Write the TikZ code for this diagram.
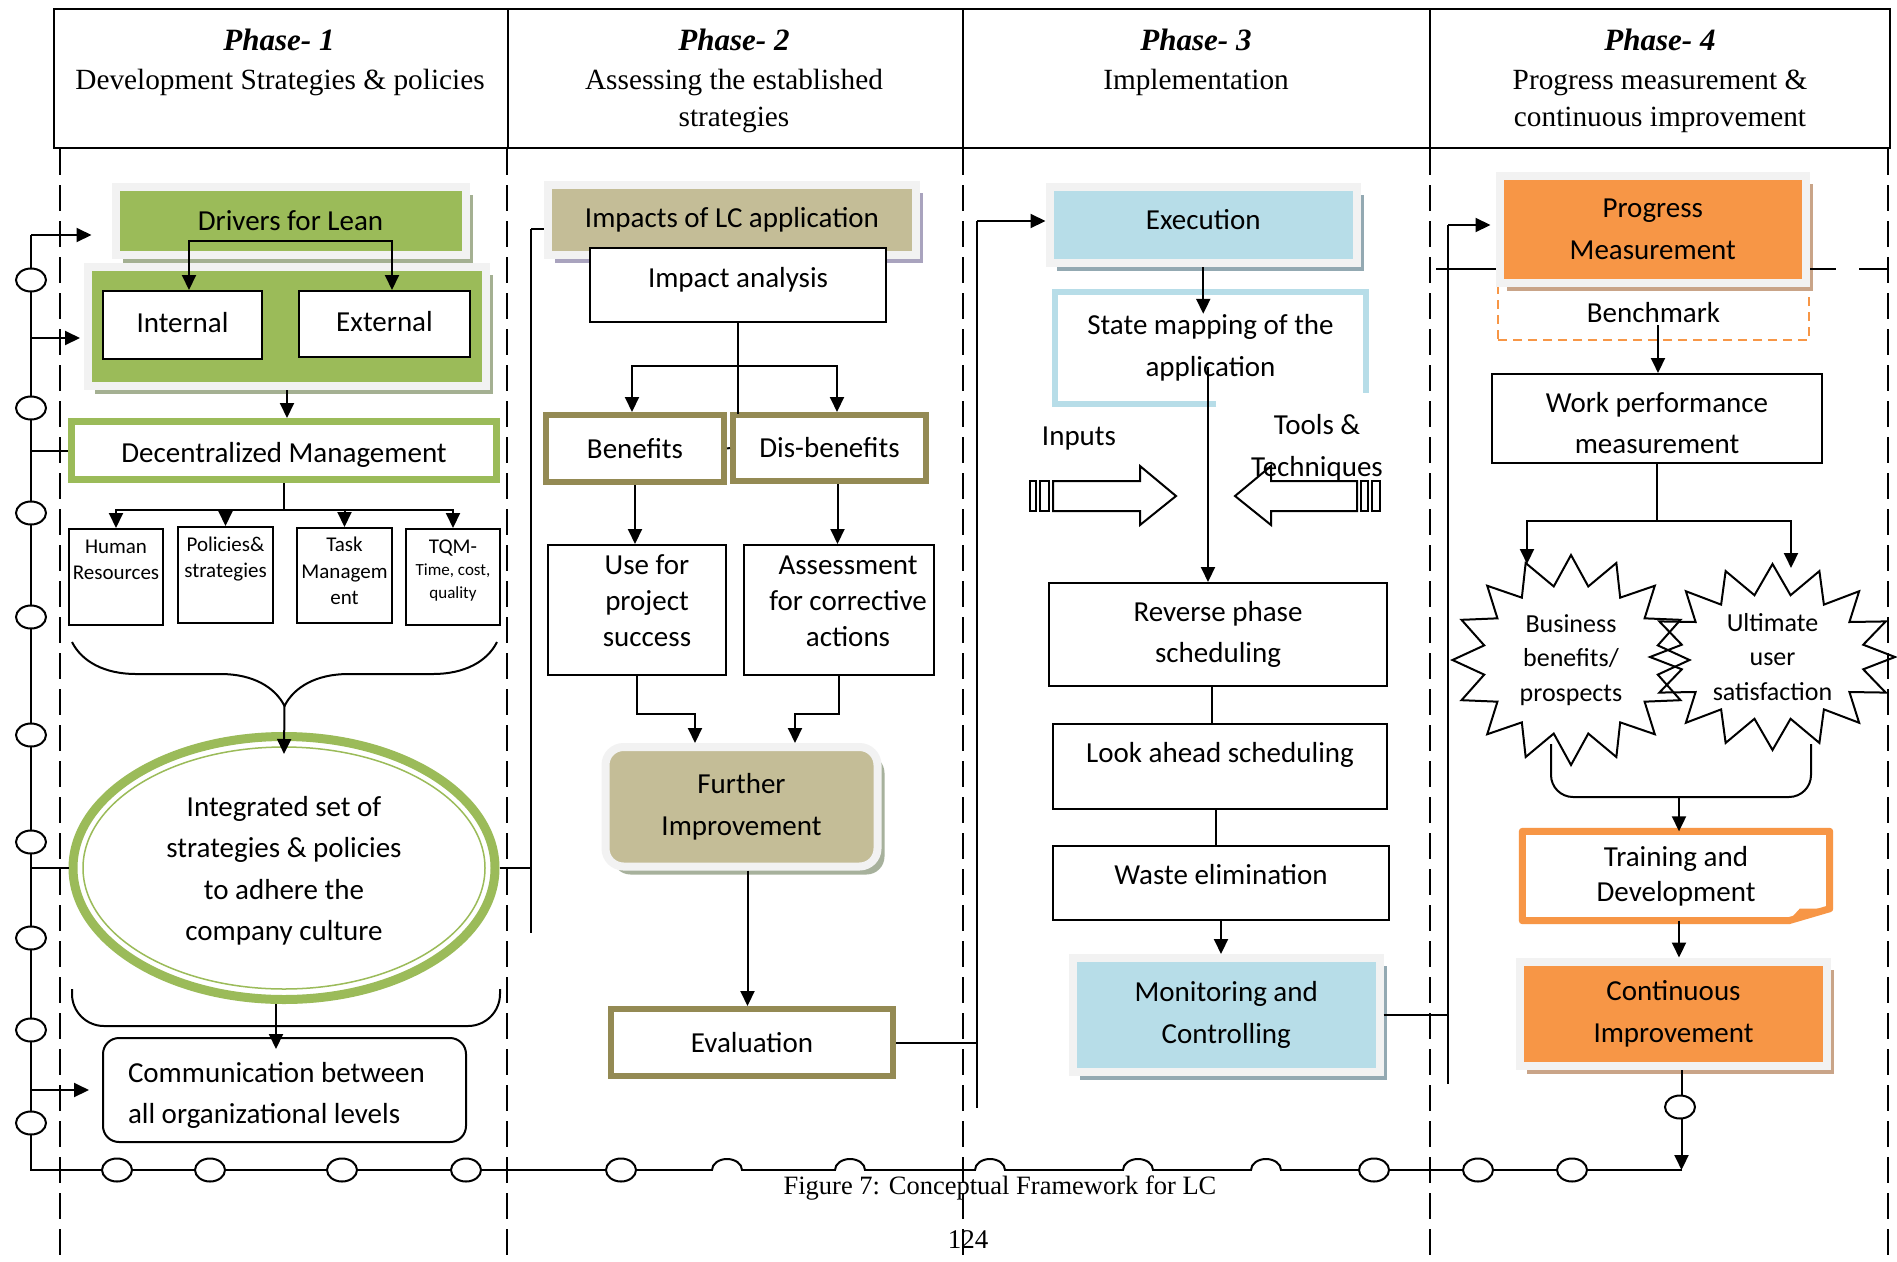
\documentclass[tikz,border=0pt]{standalone}
\usepackage{fontspec}
\setmainfont{Carlito}
\newfontfamily\headfont{Liberation Serif}
\usepackage{tikz}
\usetikzlibrary{shapes.geometric, shapes.symbols, arrows.meta, positioning, calc, decorations.pathreplacing, shadows}
\definecolor{leafgreen}{HTML}{9BBB59}
\definecolor{leafshade}{HTML}{A4B092}
\definecolor{paneframe}{HTML}{F2F2F2}
\definecolor{khaki}{HTML}{C4BD97}
\definecolor{lavshade}{HTML}{A9A3BE}
\definecolor{sageshade}{HTML}{A7B19C}
\definecolor{olivedrab}{HTML}{948A54}
\definecolor{skyfill}{HTML}{B7DDE8}
\definecolor{skyshade}{HTML}{93A9B2}
\definecolor{tangerine}{HTML}{F79646}
\definecolor{tanshade}{HTML}{C9A488}
\newcommand{\toptext}[1]{\parbox[c][90pt][t]{90pt}{\centering\rule{0pt}{21pt}#1}}
\newcommand{\boxtext}[4]{\parbox[c][#1][t]{#2}{\centering\rule{0pt}{#3}#4}}

\begin{document}
\begin{tikzpicture}[x=1pt, y=-1pt, font=\fontsize{29}{41.5}\selectfont,
    arr/.style={-{Triangle[length=15pt,width=14pt]}, line width=2pt},
    link/.style={line width=2pt},
    divider/.style={line width=1.8pt, dash pattern=on 26pt off 10pt},
    panel/.style={rectangle, draw=paneframe, line width=8pt, inner sep=0pt, align=center},
    shadowed/.style={drop shadow={shadow xshift=7pt, shadow yshift=-8pt, fill=#1, opacity=1}},
    plainbox/.style={rectangle, draw, line width=2pt, fill=white, inner sep=0pt, align=center},
    olivebox/.style={rectangle, draw=olivedrab, line width=6pt, fill=white, inner sep=0pt, align=center},
    tinybox/.style={rectangle, draw, line width=2pt, fill=white, inner sep=0pt, font=\fontsize{21}{26.5}\selectfont},
    tight/.style={font=\fontsize{29}{36}\selectfont},
    loopnode/.style={ellipse, draw, line width=2pt, fill=white, minimum width=30pt, minimum height=23pt, inner sep=0pt},
    burst/.style={starburst, starburst points=16, starburst point height=30pt, random starburst=0, draw, line width=2pt, align=center, inner sep=0pt, font=\fontsize{26}{34.5}\selectfont},
    headtitle/.style={anchor=base, font=\headfont\fontsize{31}{37}\selectfont\bfseries\itshape},
    headline/.style={anchor=base, font=\headfont\fontsize{29.3}{37}\selectfont}]

    \fill[white] (0,0) rectangle (1897,1261);
    \useasboundingbox (0,0) rectangle (1897,1261);

    % phase columns
    \foreach \x in {60,507,963,1430,1888} \draw[divider] (\x,149) -- (\x,1261);
    \draw[line width=2.5pt, fill=white] (54,9) rectangle (1890,148);
    \foreach \x in {508,963,1430} \draw[line width=2pt] (\x,9) -- (\x,148);

    \node[headtitle] (ph1) at (279,50) {Phase- 1};
    \node[headline] (ph1a) at (280,89.5) {Development Strategies \& policies};
    \node[headtitle] (ph2) at (734,50) {Phase- 2};
    \node[headline] (ph2a) at (734,89.5) {Assessing the established};
    \node[headline] (ph2b) at (734,126.5) {strategies};
    \node[headtitle] (ph3) at (1196,50) {Phase- 3};
    \node[headline] (ph3a) at (1196,89.5) {Implementation};
    \node[headtitle] (ph4) at (1660,50) {Phase- 4};
    \node[headline] (ph4a) at (1660,89.5) {Progress measurement \&};
    \node[headline] (ph4b) at (1660,126.5) {continuous improvement};

    % outer loop
    \coordinate (spinetop) at (31,235);
    \coordinate (spinebot) at (31,1170);
    \coordinate (loopend) at (1682,1170);
    \draw[link] (loopend) -- (spinebot) -- (spinetop);

    % phase 1
    \node[panel, fill=leafgreen, shadowed=leafshade, minimum width=350pt, minimum height=68pt] (drivers) at (290.5,221) {Drivers for Lean};
    \node[panel, fill=leafgreen, shadowed=leafshade, minimum width=398pt, minimum height=119pt] (ingroup) at (287,326.5) {};
    \node[plainbox, minimum width=159pt, minimum height=68pt, text height=20pt, text depth=6pt] (internal) at (182.5,325) {Internal};
    \node[plainbox, minimum width=171pt, minimum height=66pt, text height=20pt, text depth=6pt] (external) at (384.5,324) {External};
    \node[rectangle, draw=leafgreen, line width=7pt, fill=white, minimum width=425pt, minimum height=58pt, inner sep=0pt, text height=29pt, text depth=6pt] (decman) at (284,450.5) {Decentralized Management};
    \node[tinybox, minimum width=94pt, minimum height=96pt] (hr) at (116,577) {\toptext{Human\\Resources}};
    \node[tinybox, minimum width=95pt, minimum height=96pt] (pol) at (225.5,575) {\toptext{Policies\&\\strategies}};
    \node[tinybox, minimum width=95pt, minimum height=95pt] (task) at (344.5,575.5) {\toptext{Task\\Managem\\ent}};
    \node[tinybox, minimum width=94pt, minimum height=96pt] (tqm) at (453,577) {\toptext{{\fontsize{21}{26.5}\selectfont TQM-}\\\fontsize{17}{22.5}\selectfont Time, cost,\\quality}};
    \node[ellipse, draw=leafgreen, line width=9pt, fill=white, minimum width=422pt, minimum height=263pt, inner sep=0pt] (intg) at (284,868) {\boxtext{170pt}{280pt}{33pt}{Integrated set of\\strategies \& policies\\to adhere the\\company culture}};
    \draw[leafgreen, line width=1.5pt] (intg.center) ellipse [x radius=201pt, y radius=121pt];
    \node[rectangle, rounded corners=16pt, draw, line width=2pt, minimum width=363pt, minimum height=104pt, inner sep=0pt] (comm) at (284.5,1090) {\parbox[c][104pt][t]{313pt}{\raggedright\rule{0pt}{44pt}Communication between\\all organizational levels}};

    \coordinate (drvbar) at (290,241);
    \draw[arr] (drvbar) -| ([xshift=6.5pt]internal.north);
    \draw[arr] (drvbar) -| ([xshift=7.5pt]external.north);
    \draw[arr] (ingroup.south) -- (ingroup.south |- decman.north);
    \draw[link] (decman.south) -- ++(0,26.5) coordinate (dmfork);
    \foreach \b in {hr,pol,task,tqm} \draw[arr] (dmfork) -| (\b.north);

    \coordinate (bracel) at (72,642);
    \coordinate (bracer) at (497,642);
    \draw[link, decorate, decoration={brace, amplitude=64pt}] (bracer) -- (bracel);
    \coordinate (bracetip) at ($(bracel)!0.5!(bracer)+(0,64)$);
    \draw[arr] (bracetip) -- ($(intg.north)+(0,22)$);
    \draw[link, rounded corners=32pt] (72,989) -- (72,1026) -- (500,1026) -- (500,989);
    \draw[arr] ([xshift=-8pt]intg.south) coordinate (ins) -- ($(ins |- comm.north)+(0,12)$);

    \coordinate (tapB) at (31,338);
    \draw[arr, shorten >=20pt] (spinetop) -- (spinetop -| drivers.west);
    \draw[arr, shorten >=4pt] (tapB) -- (tapB -| ingroup.west);
    \draw[link] (spinetop |- decman.west) -- (decman.west);
    \draw[link] (spinetop |- intg.west) -- (intg.west);
    \draw[arr, shorten >=13pt] (spinetop |- comm.west) -- (comm.west);

    % phase 2
    \node[panel, fill=khaki, shadowed=lavshade, minimum width=368pt, minimum height=70pt] (impacts) at (732,219.5) {Impacts of LC application};
    \node[plainbox, minimum width=296pt, minimum height=74pt, text height=20pt, text depth=15pt] (impan) at (738,285) {Impact analysis};
    \node[olivebox, minimum width=178pt, minimum height=67pt] (benefits) at (635,448.5) {Benefits};
    \node[olivebox, minimum width=193pt, minimum height=66pt] (disben) at (829.5,448) {Dis-benefits};
    \node[plainbox, tight, minimum width=178pt, minimum height=130pt] (usefor) at (637,610) {\hspace*{20pt}\boxtext{128pt}{150pt}{28pt}{Use for\\project\\success}};
    \node[plainbox, tight, minimum width=190pt, minimum height=130pt] (assess) at (839,610) {\hspace*{18pt}\boxtext{128pt}{160pt}{28pt}{Assessment\\for corrective\\actions}};
    \node[panel, fill=khaki, shadowed=sageshade, rounded corners=18pt, minimum width=272pt, minimum height=119.5pt] (further) at (741.5,806.75) {Further\\Improvement};
    \node[olivebox, minimum width=282pt, minimum height=67pt] (evaluation) at (752,1042.5) {Evaluation};

    \coordinate (ph2top) at (531,229);
    \coordinate (ph2bot) at (531,933);
    \draw[link] (ph2top) -- (ph2bot);
    \draw[link] (ph2top) -- (ph2top -| impacts.west);
    \draw[link] (intg.east) -- (intg.east -| ph2top);

    \draw[link] (impan.south) -- ++(0,91);
    \path (impan.south) ++(0,43) coordinate (impfork);
    \draw[arr] (impfork) -| ([xshift=-3pt]benefits.north);
    \draw[arr] (impfork) -| ([xshift=7.5pt]disben.north);
    \draw[link] (benefits.east) -- (disben.west);
    \draw[arr] (benefits.south) -- (benefits.south |- usefor.north);
    \draw[arr] ([xshift=8pt]disben.south) coordinate (dbs) -- (dbs |- assess.north);
    \draw[arr] (usefor.south) -- ++(0,38) -| ([xshift=-46.5pt]further.north);
    \draw[arr] (assess.south) -- ++(0,38) -| ([xshift=53.5pt]further.north);
    \draw[arr] ([xshift=6pt]further.south) coordinate (fis) -- (fis |- evaluation.north);

    % phase 3
    \node[panel, fill=skyfill, shadowed=skyshade, minimum width=307.5pt, minimum height=76pt, text height=20pt, text depth=12pt] (execution) at (1203.25,225) {Execution};
    \node[minimum width=311pt, minimum height=112pt, inner sep=0pt, align=center] (statemap) at (1210.5,348) {State mapping of the\\application};
    \draw[skyfill, line width=6pt] ([xshift=5.5pt]statemap.south) -- (statemap.south west) -- (statemap.north west) -- (statemap.north east) -- ([yshift=11pt]statemap.south east);
    \node (inputs) at (1079,439) {Inputs};
    \node[align=center] (tools) at (1317,448) {Tools \&\\Techniques};
    \node[plainbox, minimum width=338pt, minimum height=103pt] (revphase) at (1218,634.5) {Reverse phase\\scheduling};
    \node[plainbox, minimum width=334pt, minimum height=85pt, text height=20pt, text depth=28pt] (lookahead) at (1220,766.5) {Look ahead scheduling};
    \node[plainbox, minimum width=336pt, minimum height=74pt, text height=20pt, text depth=17pt] (waste) at (1221,883) {Waste elimination};
    \node[panel, fill=skyfill, shadowed=skyshade, minimum width=306.5pt, minimum height=113.5pt] (monitor) at (1226.25,1014.75) {Monitoring and\\Controlling};

    \draw[link] (1053,481) -- (1140,481) -- (1140,466) -- (1176,496) -- (1140,525) -- (1140,511) -- (1053,511) -- cycle;
    \draw[link] (1030,481) rectangle (1036,511) (1040,481) rectangle (1049,511);
    \draw[link] (1357,481) -- (1271,481) -- (1271,466) -- (1235,496) -- (1271,525) -- (1271,511) -- (1357,511) -- cycle;
    \draw[link] (1361,481) rectangle (1368,511) (1372,481) rectangle (1380,511);

    \coordinate (ph3top) at (977,221);
    \coordinate (ph3bot) at (977,1108);
    \draw[link] (ph3top) -- (ph3bot);
    \draw[link] (evaluation.east) -- (evaluation.east -| ph3top);
    \draw[arr] (ph3top) -- (ph3top -| execution.west);
    \draw[arr] (execution.south) coordinate (exs) -- ($(exs |- statemap.north)+(0,22)$);
    \coordinate (smdrop) at (1208,367);
    \draw[arr] (smdrop) -- (smdrop |- revphase.north);
    \draw[link] ([xshift=-6pt]revphase.south) coordinate (rps) -- (rps |- lookahead.north);
    \draw[link] ([xshift=-4pt]lookahead.south) coordinate (las) -- (las |- waste.north);
    \draw[arr] (waste.south) -- (waste.south |- monitor.north);

    % phase 4
    \node[rectangle, draw=tangerine, dash pattern=on 9pt off 6pt, line width=2pt, minimum width=311pt, minimum height=54pt] (benchmark) at (1653.5,313) {Benchmark};
    \node[panel, fill=tangerine, shadowed=tanshade, minimum width=306.5pt, minimum height=106.5pt] (progress) at (1652.75,229.25) {Progress\\Measurement};
    \node[plainbox, minimum width=330pt, minimum height=89pt] (wpm) at (1657,418.5) {\boxtext{89pt}{310pt}{38pt}{Work performance\\measurement}};
    \node[burst, minimum width=237pt, minimum height=210pt] (bizstar) at (1571,660) {Business\\benefits/\\prospects};
    \node[burst, minimum width=245pt, minimum height=186pt] (userstar) at (1772.5,657) {Ultimate\\user\\satisfaction};
    \node[minimum width=307pt, minimum height=89pt, inner sep=0pt, align=center, font=\fontsize{29}{35}\selectfont] (training) at (1676,876) {Training and\\Development};
    \draw[tangerine, line width=7pt, line join=round] ($(training.south east)+(-41,0)$) -- (training.south west) -- (training.north west) -- (training.north east) -- ($(training.south east)+(0,-12)$) -- cycle;
    \fill[tangerine] ($(training.south east)+(-41,0)$) -- ($(training.south east)+(-30,-12)$) -- ($(training.south east)+(0,-12)$) -- cycle;
    \node[panel, fill=tangerine, shadowed=tanshade, minimum width=307pt, minimum height=104.5pt] (ci) at (1673.5,1013.75) {Continuous\\Improvement};

    \coordinate (ph4top) at (1448,225);
    \coordinate (ph4bot) at (1448,1084);
    \draw[link] (ph4top) -- (ph4bot);
    \draw[link] (monitor.east) -- (monitor.east -| ph4top);
    \draw[arr, shorten >=5pt] (ph4top) -- (ph4top -| progress.west);
    \coordinate (crossl) at (1436,269);
    \coordinate (crossr) at (1888,269);
    \draw[link] (crossl) -- (crossl -| progress.west);
    \draw[link] (progress.east |- crossl) -- ++(26,0) ++(23,0) -- (crossr);

    \coordinate (bmdrop) at (1658,325);
    \draw[arr] (bmdrop) -- (bmdrop |- wpm.north);
    \draw[link] (wpm.south) -- ++(0,57) coordinate (wpmfork);
    \coordinate (bizin) at (1527,564);
    \coordinate (userin) at (1791,568);
    \draw[arr] (wpmfork) -| (bizin);
    \draw[arr] (wpmfork) -| (userin);
    \draw[link, rounded corners=22pt] (1551,744) -- (1551,797) -- (1811,797) -- (1811,744);
    \coordinate (brkmid) at (1679,797);
    \draw[arr] (brkmid) -- (brkmid |- training.north);
    \draw[arr] ([xshift=3pt]training.south) coordinate (trs) -- (trs |- ci.north);
    \draw[arr] ([xshift=8pt]ci.south) coordinate (cis) -- (cis |- loopend);
    \node[loopnode] (ciloop) at (1680,1107) {};

    % loop markers
    \foreach \y in {280,408,513,617,735,842,938,1030,1123} \node[loopnode] (spine\y) at (31,\y) {};
    \foreach \x in {117,210,342,466,621,1374,1478,1572} \node[loopnode] (base\x) at (\x,1170) {};
    \foreach \x in {727,850,990,1138,1266} {
      \draw[white, line width=3.5pt] (\x-14,1170) -- (\x+14,1170);
      \draw[link] (\x-15,1170) arc[start angle=180, end angle=0, x radius=15pt, y radius=11pt];
    }

    \node[anchor=base, font=\headfont\fontsize{26.5}{30}\selectfont] (caption) at (1000,1194) {Figure 7: Conceptual Framework for LC};
    \node[anchor=base, font=\headfont\fontsize{27}{30}\selectfont] (pageno) at (968,1248) {124};
\end{tikzpicture}
\end{document}
